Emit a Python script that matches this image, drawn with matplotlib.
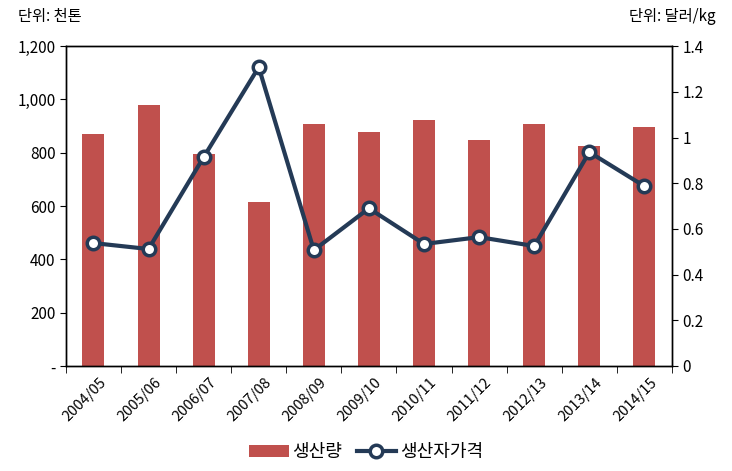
import matplotlib.pyplot as plt
import numpy as np

plt.rcParams['font.family'] = ['Noto Sans CJK KR', 'DejaVu Sans']

years = ['2004/05', '2005/06', '2006/07', '2007/08', '2008/09', '2009/10',
         '2010/11', '2011/12', '2012/13', '2013/14', '2014/15']
production = [870, 979, 795, 615, 907, 877, 922, 848, 907, 825, 896]
price = [0.538, 0.512, 0.914, 1.308, 0.507, 0.69, 0.534, 0.564, 0.525, 0.936, 0.787]

bar_color = '#C0504D'
line_color = '#243A56'

fig = plt.figure(figsize=(7.32, 4.71), dpi=100)
ax = fig.add_axes([0.09, 0.223, 0.828, 0.679])
x = np.arange(len(years))

bars = ax.bar(x, production, width=0.4, color=bar_color, label='생산량', zorder=2)
ax.set_xlim(-0.5, len(years) - 0.5)
ax.set_ylim(0, 1200)
ax.set_yticks(range(0, 1201, 200))
ax.set_yticklabels(['-'] + [f'{v:,}' for v in range(200, 1201, 200)], fontsize=11)
ax.set_xticks(x + 0.1)
ax.set_xticklabels(years, rotation=45, ha='right', rotation_mode='anchor', fontsize=10.5)
ax.tick_params(axis='x', length=0, pad=7)
ax.set_xticks(np.arange(-0.5, len(years), 1), minor=True)
ax.tick_params(axis='x', which='minor', length=5, direction='out')
ax.tick_params(axis='y', length=4, direction='out')

ax2 = ax.twinx()
line, = ax2.plot(x, price, color=line_color, lw=3, marker='o', markersize=9,
                 markerfacecolor='white', markeredgecolor=line_color,
                 markeredgewidth=2.5, label='생산자가격', zorder=3)
ax2.set_ylim(0, 1.4)
ax2.set_yticks([0, 0.2, 0.4, 0.6, 0.8, 1.0, 1.2, 1.4])
ax2.set_yticklabels(['0', '0.2', '0.4', '0.6', '0.8', '1', '1.2', '1.4'], fontsize=11)
ax2.tick_params(axis='y', length=4, direction='out')

for a in (ax, ax2):
    for s in a.spines.values():
        s.set_linewidth(1.0)
        s.set_color('black')

fig.text(0.025, 0.965, '단위: 천톤', fontsize=11, va='center', ha='left')
fig.text(0.978, 0.965, '단위: 달러/kg', fontsize=11, va='center', ha='right')

fig.legend([bars, line], ['생산량', '생산자가격'], loc='center', ncol=2,
           bbox_to_anchor=(0.5, 0.04), frameon=False, fontsize=13,
           handlelength=2.2, columnspacing=0.8, handletextpad=0.2)

fig.savefig('out.png', dpi=100)
